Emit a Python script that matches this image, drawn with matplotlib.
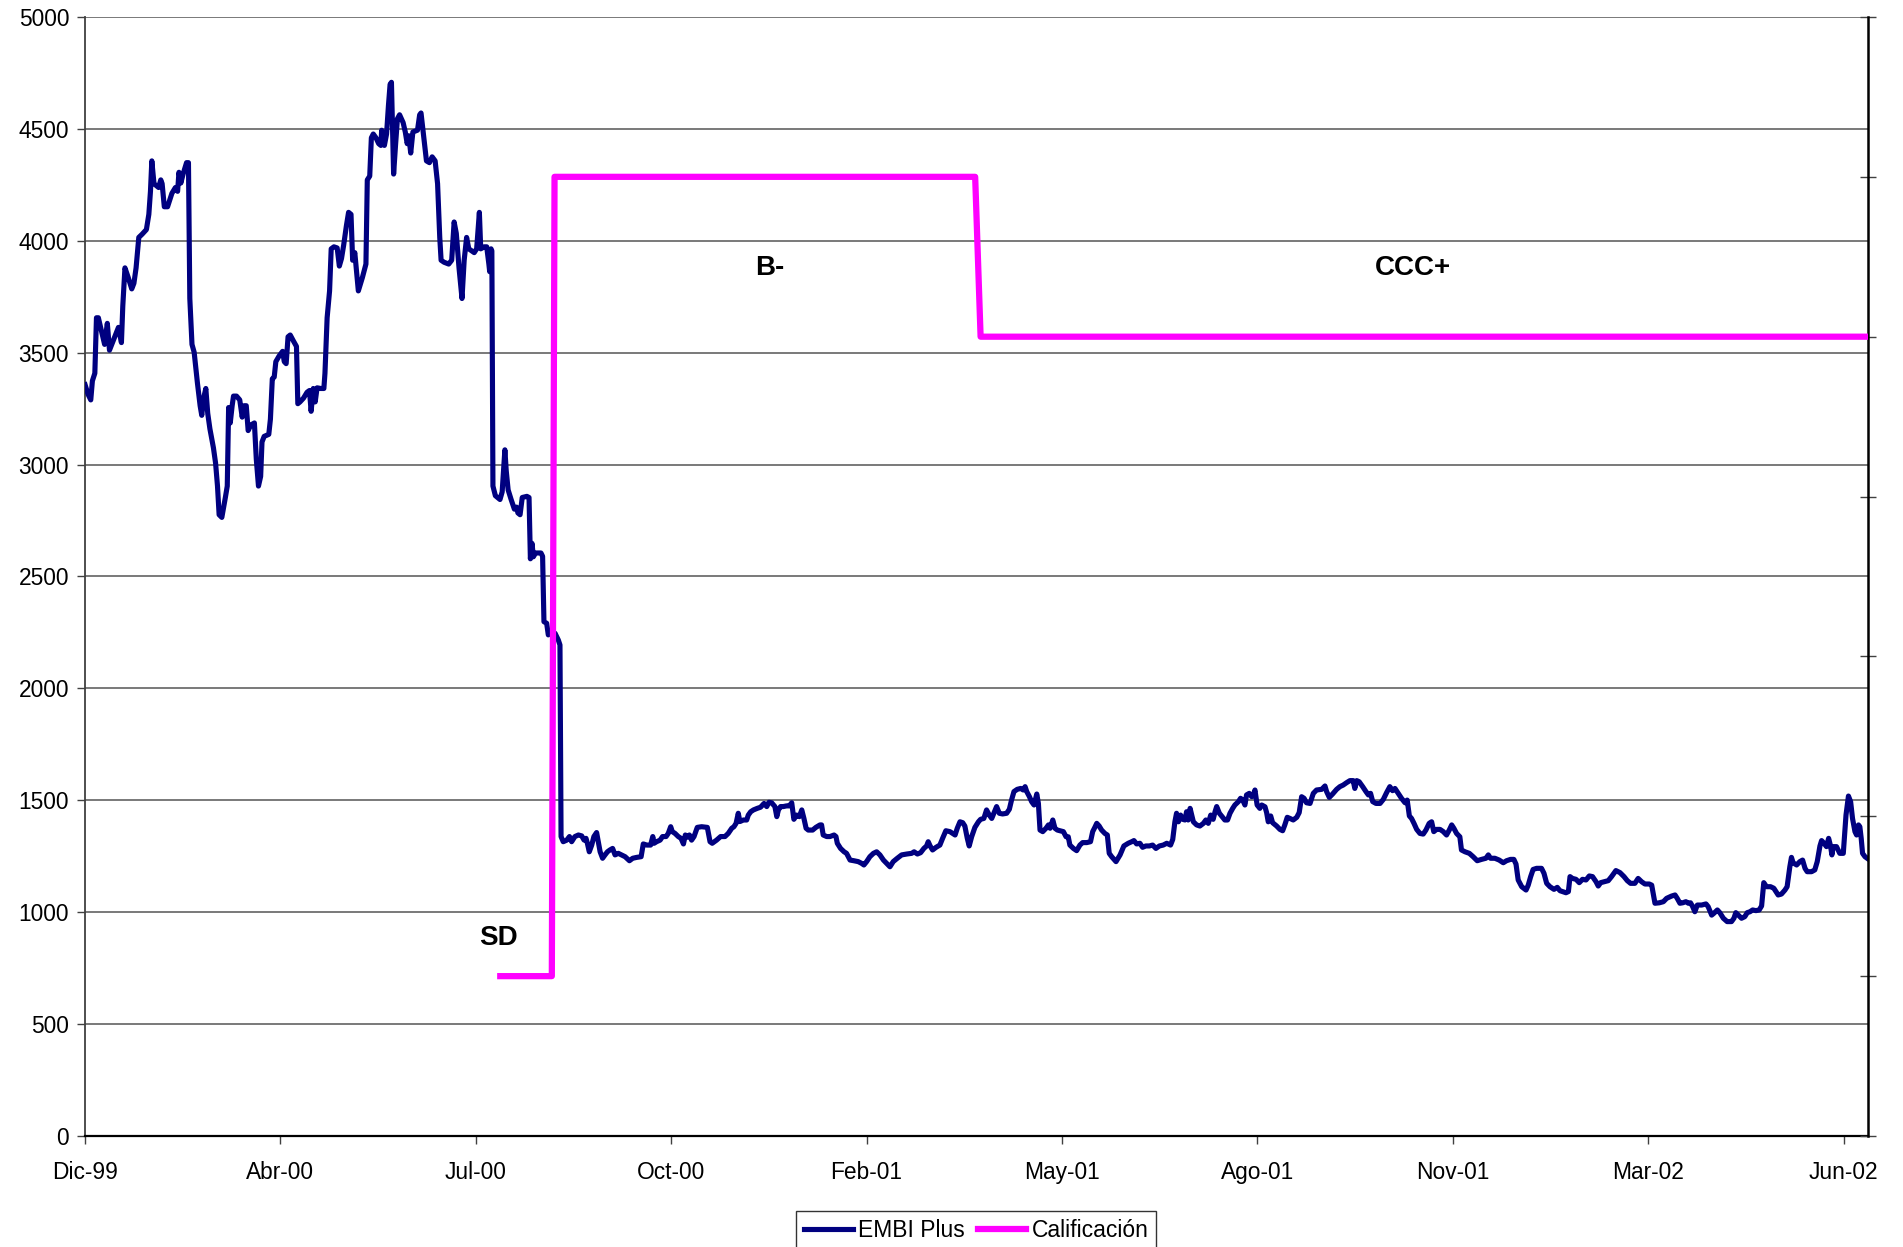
import matplotlib
matplotlib.use("Agg")
import matplotlib.pyplot as plt
from matplotlib.lines import Line2D

plt.rcParams["font.family"] = ["Liberation Sans", "DejaVu Sans"]

# EMBI Plus spread (bp), by trading day since Dic-99
dias = [
    0.0, 1.1, 2.1, 2.7, 3.6, 4.2, 4.9, 6.2, 7.2, 8.2, 9.0, 10.1, 12.3, 13.4, 13.9,
    14.7, 15.9, 17.2, 18.0, 18.8, 19.8, 21.0, 22.6, 23.5, 24.1, 24.6, 25.4, 27.1,
    27.9, 28.4, 29.2, 30.4, 32.0, 33.3, 34.1, 34.6, 35.3, 36.1, 37.4, 38.1, 38.6,
    39.4, 40.2, 41.4, 42.4, 43.0, 43.7, 44.5, 45.2, 46.0, 47.3, 48.1, 48.8, 49.4,
    50.4, 51.7, 52.4, 52.9, 53.5, 54.2, 54.7, 55.8, 57.0, 57.9, 58.6, 59.4, 60.1,
    61.1, 62.4, 63.1, 63.9, 64.7, 65.2, 66.0, 67.7, 68.3, 69.0, 69.7, 70.3, 71.5,
    72.8, 73.4, 74.1, 74.8, 75.6, 76.7, 77.9, 78.4, 79.2, 80.5, 81.8, 82.7, 83.3,
    84.1, 84.8, 85.5, 86.8, 88.0, 88.4, 89.2, 90.1, 90.7, 91.7, 92.9, 93.7, 94.5,
    95.3, 96.3, 97.1, 98.0, 98.6, 99.4, 100.3, 100.7, 102.2, 103.5, 104.0, 104.9,
    105.5, 106.2, 107.2, 108.2, 109.0, 109.3, 109.8, 110.3, 111.1, 111.8, 112.4,
    112.9, 113.7, 114.4, 115.1, 115.9, 117.2, 118.0, 118.7, 119.3, 120.0, 120.8,
    122.5, 123.3, 123.8, 124.6, 125.8, 126.9, 127.9, 129.0, 129.9, 130.7, 131.2,
    132.3, 134.0, 135.1, 136.0, 136.8, 137.8, 138.9, 139.7, 140.6, 141.4, 143.4,
    144.3, 145.3, 145.8, 147.1, 148.0, 148.8, 149.1, 149.6, 149.9, 150.3, 151.2,
    152.9, 153.7, 154.7, 155.2, 155.9, 157.0, 158.2, 159.0, 159.5, 160.3, 161.1,
    162.8, 163.6, 164.1, 164.7, 165.2, 166.0, 166.9, 168.0, 168.6, 169.1, 170.1,
    170.7, 171.5, 173.2, 174.4, 175.0, 175.4, 176.2, 177.5, 178.5, 179.3, 180.5,
    181.8, 183.0, 183.9, 184.6, 185.1, 185.8, 186.7, 187.5, 188.5, 189.1, 189.8,
    190.7, 191.6, 192.5, 193.4, 194.4, 195.3, 196.5, 197.7, 199.0, 200.6, 201.8,
    203.3, 204.9, 205.7, 207.0, 208.4, 209.2, 209.7, 210.6, 211.9, 212.8, 214.1,
    214.9, 215.8, 216.4, 217.4, 218.6, 219.6, 220.5, 221.2, 221.9, 222.7, 223.5,
    224.4, 225.6, 227.2, 229.3, 230.3, 231.1, 232.7, 234.2, 235.8, 237.0, 238.3,
    239.1, 239.9, 240.7, 241.3, 242.6, 243.8, 244.4, 245.3, 246.3, 247.7, 248.9,
    250.2, 251.2, 252.0, 253.0, 254.2, 254.9, 255.5, 256.3, 257.3, 258.5, 259.5,
    260.4, 261.2, 262.2, 263.2, 264.1, 264.9, 265.7, 266.5, 268.1, 269.3, 270.8,
    271.4, 272.0, 273.3, 274.5, 276.0, 276.7, 277.2, 278.4, 279.7, 280.6, 281.9,
    283.3, 284.9, 286.2, 287.0, 288.0, 289.2, 290.5, 291.7, 292.9, 294.2, 295.4,
    296.6, 297.8, 299.3, 300.9, 302.8, 304.6, 305.5, 306.7, 307.9, 309.1, 310.1,
    310.7, 311.4, 312.3, 313.6, 315.0, 316.0, 317.2, 318.7, 320.6, 321.4, 322.4,
    323.4, 324.2, 325.1, 325.8, 326.7, 327.9, 329.2, 330.0, 331.2, 332.2, 333.2,
    334.1, 334.9, 335.9, 336.9, 338.1, 339.6, 340.6, 341.4, 342.3, 343.5, 344.8,
    345.7, 346.4, 347.0, 348.0, 348.8, 349.7, 350.7, 351.3, 351.9, 352.9, 354.1,
    355.0, 355.6, 356.6, 357.4, 358.3, 359.3, 360.5, 361.5, 362.3, 362.9, 364.2,
    365.4, 366.6, 367.6, 369.1, 370.5, 371.3, 372.1, 372.8, 373.7, 374.6, 375.8,
    376.7, 377.4, 378.3, 379.9, 381.4, 382.8, 384.4, 385.7, 386.5, 387.5, 388.7,
    389.7, 390.9, 392.2, 393.4, 394.6, 395.9, 397.3, 398.6, 400.0, 400.8, 401.6,
    402.2, 402.9, 403.7, 404.5, 405.3, 405.9, 406.5, 407.2, 407.8, 408.4, 409.6,
    410.8, 412.1, 413.0, 413.9, 414.8, 415.7, 416.4, 417.0, 418.0, 418.8, 420.0,
    421.0, 421.9, 422.9, 423.7, 425.0, 425.8, 426.6, 427.4, 428.0, 429.0, 429.9,
    430.5, 431.1, 431.9, 432.9, 433.6, 434.8, 435.4, 436.0, 436.9, 437.6, 439.1,
    440.3, 441.3, 442.1, 443.0, 444.0, 445.2, 446.5, 447.4, 448.3, 449.2, 450.1,
    451.4, 452.6, 453.8, 455.7, 456.9, 457.5, 458.5, 459.7, 461.2, 462.4, 463.6,
    464.9, 466.1, 467.3, 467.9, 468.6, 469.5, 470.8, 472.0, 472.9, 473.7, 474.5,
    475.7, 477.2, 478.4, 479.6, 480.8, 481.8, 482.7, 483.9, 485.1, 486.4, 487.2,
    488.0, 488.8, 489.7, 490.7, 491.9, 493.1, 494.1, 495.3, 496.2, 497.0, 498.0,
    499.3, 500.5, 501.7, 502.7, 503.6, 504.4, 505.4, 506.6, 507.2, 508.5, 510.1,
    511.5, 513.0, 514.6, 516.2, 517.1, 517.9, 519.5, 521.1, 522.6, 523.8, 525.3,
    526.5, 527.3, 528.1, 529.4, 531.0, 531.8, 532.7, 533.6, 534.9, 536.7, 537.6,
    538.6, 539.8, 541.3, 542.5, 543.5, 544.5, 545.7, 546.6, 547.2, 548.1, 549.4,
    550.6, 551.8, 553.1, 554.3, 555.5, 556.8, 557.6, 558.5, 559.7, 561.3, 562.5,
    564.1, 565.6, 567.1, 568.3, 569.5, 571.1, 572.3, 573.6, 574.8, 576.4, 577.3,
    578.5, 580.1, 581.6, 582.8, 584.6, 585.9, 586.7, 587.7, 588.7, 589.9, 590.8,
    591.6, 592.4, 593.2, 594.1, 595.7, 597.3, 598.1, 599.4, 600.2, 601.5, 602.4,
    603.7, 605.1, 606.7, 607.6, 608.3, 609.2, 610.4, 611.6, 612.5, 613.5, 614.5,
    615.7, 616.9, 617.8, 618.6, 619.6, 621.1, 622.3, 623.9, 625.1, 626.4, 627.2,
    628.2, 628.8, 629.4, 630.7, 631.9, 632.9, 633.8, 634.6, 636.2, 637.4, 638.3,
    639.3, 639.9, 640.8, 641.7, 642.5, 643.2, 643.7, 644.2, 645.4, 646.6, 647.9,
    648.9, 649.8, 650.6, 651.3, 652.2, 652.8, 653.5, 654.0, 654.5, 655.0, 655.9,
    656.7,
]
embi = [
    3357, 3314, 3289, 3374, 3408, 3656, 3656, 3588, 3537, 3631, 3511, 3545, 3613, 3545, 3708,
    3879, 3836, 3785, 3810, 3879, 4015, 4029, 4050, 4118, 4221, 4357, 4255, 4238,
    4272, 4255, 4152, 4152, 4212, 4238, 4221, 4306, 4258, 4297, 4349, 4349, 3742,
    3537, 3502, 3365, 3263, 3220, 3297, 3340, 3229, 3160, 3075, 3006, 2904, 2776,
    2764, 2853, 2904, 3255, 3186, 3263, 3306, 3306, 3289, 3212, 3263, 3263, 3152,
    3177, 3186, 3024, 2904, 2947, 3101, 3126, 3135, 3203, 3383, 3391, 3460, 3485,
    3506, 3460, 3451, 3571, 3579, 3554, 3528, 3272, 3280, 3297, 3323, 3331, 3238,
    3340, 3280, 3343, 3340, 3340, 3408, 3656, 3776, 3964, 3973, 3968, 3887, 3921,
    3981, 4067, 4127, 4118, 3913, 3947, 3827, 3776, 3836, 3896, 4272, 4289,
    4460, 4477, 4460, 4434, 4426, 4494, 4460, 4426, 4477, 4605, 4699,
    4708, 4298, 4426, 4545, 4563, 4528, 4486, 4434, 4469, 4392, 4486,
    4494, 4563, 4571, 4486, 4357, 4349, 4375, 4357, 4255, 4015, 3913,
    3904, 3896, 3913, 4084, 4033, 3879, 3742, 3913, 4015, 3964, 3947,
    3964, 4127, 3964, 3973, 3973, 3896, 3862, 3964, 3955, 2904, 2861,
    2844, 2878, 3066, 2972, 2887, 2844, 2801, 2810, 2784, 2776, 2853,
    2858, 2853, 2579, 2648, 2588, 2605, 2605, 2605, 2590, 2298, 2291,
    2239, 2250, 2246, 2216, 2194, 1338, 1315, 1322, 1338, 1315, 1338,
    1345, 1341, 1322, 1330, 1308, 1270, 1300, 1338, 1356, 1315, 1270,
    1241, 1256, 1270, 1278, 1285, 1256, 1263, 1256, 1248, 1230, 1241,
    1245, 1248, 1305, 1300, 1300, 1338, 1308, 1315, 1322, 1338, 1338,
    1352, 1382, 1360, 1352, 1338, 1330, 1305, 1345, 1335, 1345, 1322,
    1338, 1379, 1382, 1379, 1315, 1308, 1322, 1338, 1338, 1352, 1375,
    1382, 1397, 1442, 1405, 1412, 1412, 1434, 1449, 1457, 1464, 1469,
    1486, 1472, 1491, 1489, 1472, 1427, 1457, 1472, 1472, 1475, 1475,
    1489, 1415, 1434, 1427, 1457, 1419, 1375, 1367, 1367, 1379, 1390,
    1390, 1345, 1338, 1338, 1345, 1338, 1308, 1285, 1270, 1263, 1233,
    1230, 1226, 1218, 1211, 1226, 1248, 1263, 1270, 1256, 1233, 1218,
    1203, 1226, 1241, 1256, 1260, 1263, 1270, 1260, 1266, 1285, 1296,
    1315, 1296, 1278, 1290, 1300, 1330, 1364, 1360, 1345, 1375, 1404,
    1400, 1385, 1330, 1296, 1337, 1379, 1404, 1415, 1419, 1457, 1434,
    1419, 1442, 1472, 1442, 1439, 1442, 1460, 1501, 1539, 1549, 1553,
    1546, 1561, 1539, 1516, 1494, 1479, 1528, 1486, 1367, 1360, 1375,
    1390, 1375, 1412, 1375, 1367, 1364, 1360, 1337, 1337, 1300, 1285,
    1275, 1300, 1311, 1311, 1315, 1360, 1379, 1397, 1385, 1367, 1352,
    1345, 1263, 1248, 1226, 1256, 1296, 1308, 1315, 1320, 1305, 1308,
    1290, 1296, 1296, 1300, 1285, 1296, 1300, 1308, 1300, 1325, 1404,
    1442, 1404, 1434, 1415, 1412, 1449, 1412, 1464, 1434, 1404, 1390,
    1385, 1397, 1412, 1397, 1434, 1415, 1449, 1472, 1442, 1430, 1412,
    1412, 1442, 1464, 1479, 1494, 1509, 1501, 1479, 1524, 1531, 1516,
    1524, 1546, 1479, 1464, 1479, 1471, 1445, 1404, 1430, 1400, 1385,
    1370, 1364, 1390, 1424, 1419, 1412, 1424, 1445, 1516, 1509, 1489,
    1486, 1531, 1546, 1549, 1564, 1539, 1513, 1528, 1549, 1561, 1568,
    1579, 1588, 1588, 1553, 1588, 1583, 1561, 1539, 1524, 1531, 1494,
    1486, 1486, 1504, 1534, 1561, 1543, 1553, 1531, 1509, 1489, 1501,
    1430, 1419, 1397, 1370, 1352, 1349, 1367, 1397, 1404, 1360, 1370,
    1370, 1360, 1345, 1367, 1390, 1375, 1352, 1337, 1278, 1270, 1263,
    1248, 1230, 1236, 1241, 1256, 1241, 1241, 1233, 1221, 1230, 1236,
    1236, 1215, 1144, 1114, 1099, 1121, 1159, 1191, 1196, 1196, 1174,
    1129, 1114, 1102, 1111, 1096, 1092, 1087, 1092, 1159, 1151, 1147,
    1132, 1147, 1144, 1162, 1159, 1136, 1117, 1132, 1136, 1141, 1159,
    1186, 1177, 1159, 1141, 1129, 1129, 1151, 1136, 1126, 1126, 1121,
    1040, 1042, 1047, 1062, 1072, 1077, 1062, 1040, 1042, 1047, 1040,
    1042, 1025, 1002, 1032, 1032, 1037, 1025, 987, 995, 1010, 998,
    973, 958, 958, 973, 998, 987, 973, 980, 998, 1002, 1010,
    1007, 1010, 1028, 1132, 1114, 1114, 1107, 1077, 1081, 1099, 1114,
    1203, 1245, 1221, 1211, 1226, 1233, 1196, 1181, 1181, 1189, 1226,
    1296, 1320, 1308, 1293, 1330, 1296, 1256, 1293, 1293, 1263, 1263,
    1434, 1519, 1494, 1419, 1360, 1345, 1390, 1382, 1330, 1263, 1248,
    1241,
]

# Rating (secondary axis: SD=1, CCC+=5, B-=6)
calif_dias = [153, 172, 173, 328, 330, 657]
calif_nivel = [1, 1, 6, 6, 5, 5]

etiquetas = ["Dic-99", "Abr-00", "Jul-00", "Oct-00", "Feb-01",
             "May-01", "Ago-01", "Nov-01", "Mar-02", "Jun-02"]
paso = 72
n_dias = 657

notas = [("SD", 152.3, 885), ("B-", 252.2, 3880), ("CCC+", 489.4, 3880)]

azul = "#000080"
rosa = "#FF00FF"

fig = plt.figure(figsize=(19.03, 12.47), dpi=100)
ax = fig.add_axes([0.0447, 0.0890, 0.9369, 0.8974])

ax.plot(dias, embi, color=azul, lw=3.7, solid_joinstyle="round", zorder=3)
ax.set_xlim(0, n_dias)
ax.set_ylim(0, 5000)
ax.set_yticks(range(0, 5001, 500))
ax.set_xticks([i * paso for i in range(len(etiquetas))])
ax.set_xticklabels(etiquetas)
ax.grid(axis="y", color="#555555", lw=1.1)
ax.set_axisbelow(True)
ax.tick_params(axis="y", direction="out", length=6, width=1, color="#404040",
               pad=5.5, labelsize=16.4)
ax.tick_params(axis="x", direction="out", length=6, width=1, color="#404040",
               pad=12, labelsize=16.4)
ax.spines["top"].set_visible(False)
ax.spines["right"].set_visible(False)
ax.spines["left"].set_color("#404040")
ax.spines["left"].set_linewidth(1.3)
ax.spines["bottom"].set_color("black")
ax.spines["bottom"].set_linewidth(1.6)

for txt, xx, yy in notas:
    ax.text(xx, yy, txt, ha="center", va="center", fontsize=20,
            fontweight="bold", zorder=5)

ax2 = ax.twinx()
ax2.plot(calif_dias, calif_nivel, color=rosa, lw=4.5, zorder=4)
ax2.set_ylim(0, 7)
ax2.set_yticks(range(0, 8))
ax2.set_yticklabels([])
ax2.tick_params(axis="y", direction="inout", length=11, width=1, color="#404040")
ax2.spines["right"].set_color("black")
ax2.spines["right"].set_linewidth(1.8)
for s in ["top", "left", "bottom"]:
    ax2.spines[s].set_visible(False)

handles = [Line2D([], [], color=azul, lw=3.7), Line2D([], [], color=rosa, lw=4.5)]
leg = fig.legend(handles, ["EMBI Plus", "Calificación"], loc="upper center",
                 bbox_to_anchor=(0.5131, 0.0289), ncol=2, fontsize=16.5,
                 frameon=True, fancybox=False, handlelength=2.1,
                 handletextpad=0.25, columnspacing=0.55, borderpad=0.35,
                 borderaxespad=0)
leg.get_frame().set_edgecolor("black")
leg.get_frame().set_linewidth(1.0)

fig.savefig("out.png", dpi=100)
